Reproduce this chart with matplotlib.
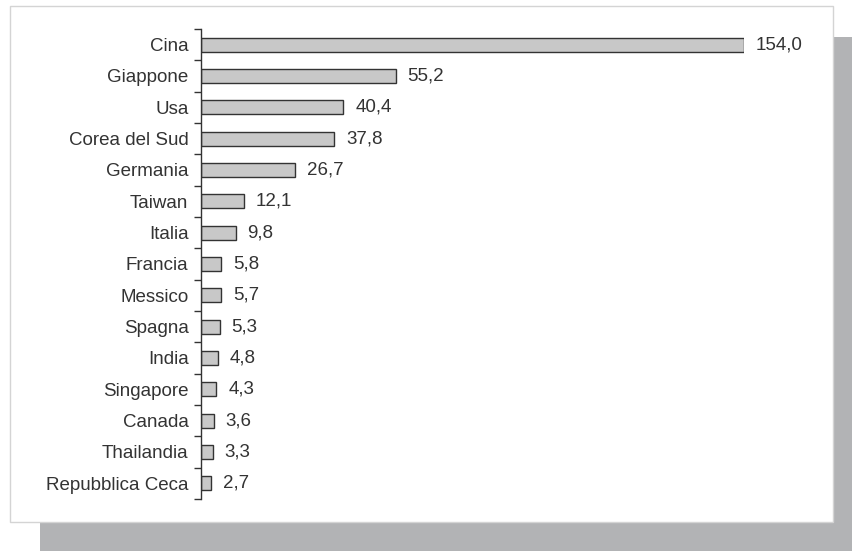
import matplotlib.pyplot as plt
from matplotlib.patches import Rectangle

plt.rcParams['font.family'] = ['Liberation Sans', 'DejaVu Sans']

# data
countries = ["Cina", "Giappone", "Usa", "Corea del Sud", "Germania", "Taiwan",
             "Italia", "Francia", "Messico", "Spagna", "India", "Singapore",
             "Canada", "Thailandia", "Repubblica Ceca"]
values = [154.0, 55.2, 40.4, 37.8, 26.7, 12.1, 9.8, 5.8, 5.7, 5.3, 4.8, 4.3,
          3.6, 3.3, 2.7]

W, H = 852, 551
fig = plt.figure(figsize=(W / 100, H / 100), dpi=100)


def box(x0, y0, x1, y1, **kw):
    # pixel coords from top-left -> figure fraction
    fig.patches.append(Rectangle((x0 / W, 1 - y1 / H), (x1 - x0) / W, (y1 - y0) / H,
                                 transform=fig.transFigure, **kw))


# shadow and white panel
box(40, 37, 852, 551, facecolor="#b2b3b5", edgecolor="none", zorder=0)
box(10, 6, 833, 522, facecolor="white", edgecolor="#d4d4d4", linewidth=1, zorder=1)

ax = fig.add_axes([201 / W, 1 - 499 / H, (744 - 201) / W, (499 - 29) / H])
ax.set_facecolor("none")
ax.set_zorder(2)

y = list(range(len(countries)))
ax.barh(y, values, height=0.45, color="#c8c8c8", edgecolor="#333333", linewidth=1)

for yi, v in zip(y, values):
    ax.text(v + 3.4, yi, f"{v:.1f}".replace(".", ","), va="center", ha="left",
            fontsize=13.5, color="#333333", clip_on=False)

ax.set_xlim(0, 154)
ax.set_ylim(len(countries) - 0.5, -0.5)

ax.set_yticks(y)
ax.set_yticklabels(countries, fontsize=13.5, color="#333333")
ax.tick_params(axis="y", which="major", length=0, pad=9)
ax.set_yticks([i - 0.5 for i in range(len(countries) + 1)], minor=True)
ax.tick_params(axis="y", which="minor", length=5, width=1, color="#333333", direction="out")
ax.set_xticks([])

for s in ["top", "right", "bottom"]:
    ax.spines[s].set_visible(False)
ax.spines["left"].set_color("#333333")
ax.spines["left"].set_linewidth(1)

fig.savefig("out.png", dpi=100)
